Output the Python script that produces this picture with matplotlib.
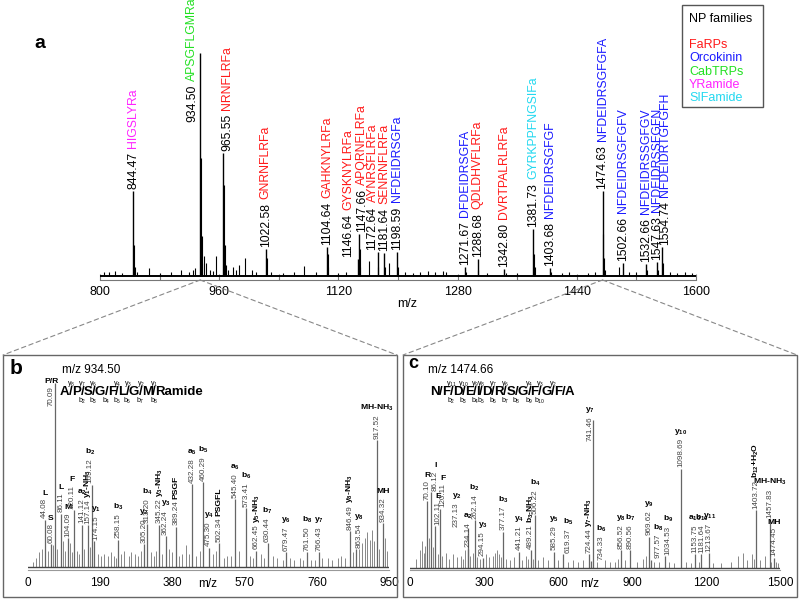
import re
import matplotlib
matplotlib.use('Agg')
import matplotlib.pyplot as plt
from matplotlib.patches import Rectangle, ConnectionPatch
from matplotlib.ticker import MultipleLocator

plt.rcParams['font.family'] = ['Liberation Sans', 'DejaVu Sans']
plt.rcParams['mathtext.fontset'] = 'custom'
plt.rcParams['mathtext.rm'] = 'Liberation Sans'
plt.rcParams['mathtext.it'] = 'Liberation Sans:italic'
plt.rcParams['mathtext.bf'] = 'Liberation Sans:bold'

# ------------------------------------------------------------------ data
# Panel a : full MS spectrum
a_xticks = [800, 960, 1120, 1280, 1440, 1600]
a_lab_mz = [844.47, 934.50, 965.55, 1022.58, 1104.64, 1146.64, 1147.66, 1172.64,
            1181.64, 1198.59, 1290.0, 1307.0, 1342.80, 1381.73, 1403.68, 1474.63,
            1502.66, 1532.66, 1547.63, 1554.74]
a_lab_int = [38, 100, 55, 12, 13, 7.5, 19, 11, 10.5, 11, 4, 7.6, 3.2, 21, 3.7, 38,
             5.9, 5.3, 6.3, 13]
a_lab_num = ['844.47', '934.50', '965.55', '1022.58', '1104.64', '1146.64', '1147.66',
             '1172.64', '1181.64', '1198.59', '1271.67', '1288.68', '1342.80', '1381.73',
             '1403.68', '1474.63', '1502.66', '1532.66', '1547.63', '1554.74']
a_lab_name = ['HIGSLYRa', 'APSGFLGMRa', 'NRNFLRFa', 'GNRNFLRFa', 'GAHKNYLRFa',
              'GYSKNYLRFa', 'APQRNFLRFa', 'AYNRSFLRFa', 'SENRNFLRFa', 'NFDEIDRSGFa',
              'DFDEIDRSGFA', 'QDLDHVFLRFa', 'DVRTPALRLRFa', 'GYRKPPFNGSIFa',
              'NFDEIDRSGFGF', 'NFDEIDRSGFGFA', 'NFDEIDRSGFGFV', 'NFDEIDRSSGFGV',
              'NFDEIDRSSFGFN', 'NFDEIDRTGFGFH']
a_lab_family = ['YRamide', 'CabTRPs', 'FaRPs', 'FaRPs', 'FaRPs', 'FaRPs', 'FaRPs',
                'FaRPs', 'FaRPs', 'Orcokinin', 'Orcokinin', 'FaRPs', 'FaRPs',
                'SIFamide', 'Orcokinin', 'Orcokinin', 'Orcokinin', 'Orcokinin',
                'Orcokinin', 'Orcokinin']
a_minor_mz = [806, 812, 820, 830, 845.5, 846.5, 850, 866, 880, 895, 909, 920, 925, 928,
              935.5, 936.5, 937.5, 939, 942, 948, 952, 956, 966.55, 967.5, 968.5, 972,
              978, 983, 987, 995, 1004, 1010, 1023.6, 1030, 1045, 1060, 1074, 1090,
              1105.6, 1106.6, 1120, 1130, 1148.66, 1149.6, 1161, 1173.6, 1182.6, 1187.6,
              1199.6, 1210, 1220, 1230, 1240, 1250, 1260, 1265, 1291, 1308, 1320, 1345,
              1360, 1382.7, 1383.7, 1404.7, 1420, 1430, 1455, 1465, 1475.6, 1476.6,
              1477.6, 1497, 1510, 1520, 1533.6, 1548.6, 1555.7, 1565, 1575, 1585, 1595]
a_minor_int = [2, 1.8, 2.2, 1.5, 14, 4, 2, 3.7, 1.5, 1.8, 3, 2, 3, 3.5,
               53, 18, 6, 9, 6, 3, 2.5, 9, 41, 14, 5, 3,
               4, 3, 5, 8, 3, 2, 8, 2, 1.5, 2, 4.4, 1.8,
               10, 4, 1.5, 2, 12, 4, 7, 4, 4, 6,
               4, 2, 1.5, 2, 2.2, 1.8, 2.5, 2, 2, 3, 1.5, 1.5,
               1.5, 10, 4, 2, 1.5, 1.8, 1.5, 2, 19, 8,
               3, 4, 2, 2, 3, 3, 6, 2, 1.5, 1.8, 1.5]
family_names = ['FaRPs', 'Orcokinin', 'CabTRPs', 'YRamide', 'SIFamide']
family_colors = ['#ff1a1a', '#1a1aff', '#22e022', '#ff22ff', '#22d8f0']

# Panel b : MS/MS of m/z 934.50
b_xticks = [0, 190, 380, 570, 760, 950]
b_mz = [44.08, 60.08, 70.09, 86.11, 104.09, 120.11, 141.12, 157.14, 169.12, 174.15,
        237.0, 305.20, 313.20, 345.22, 362.24, 389.24, 432.28, 460.29, 475.30, 502.34,
        545.40, 573.41, 601.0, 630.44, 679.47, 734.0, 766.43, 846.49, 863.54, 917.52,
        934.32]
b_int = [25.7, 12.4, 100, 29, 15.6, 31, 23, 22.8, 44.7, 14, 15, 12.4, 23.4, 23, 17, 22,
         45, 46, 10.6, 13, 37, 32, 9, 13, 8, 8, 8, 19.7, 9.7, 69, 24]
b_num = ['44.08', '60.08', '70.09', '86.11', '104.09', '120.11', '141.12', '157.14',
         '169.12', '174.15', '258.15', '305.20', '313.20', '345.22', '362.24', '389.24',
         '432.28', '460.29', '475.30', '502.34', '545.40', '573.41', '662.45', '630.44',
         '679.47', '761.50', '766.43', '846.49', '863.54', '917.52', '934.32']
b_ion = ['L', 'S', 'P/R', 'L', 'M', 'F', 'a_2', 'y_1-NH_3', 'b_2', 'y_1', 'b_3', 'y_2',
         'b_4', 'y_3-NH_3', 'y_3', 'PSGF', 'a_5', 'b_5', 'y_4', 'PSGFL', 'a_6', 'b_6',
         'y_5-NH_3', 'b_7', 'y_6', 'b_8', 'y_7', 'y_8-NH_3', 'y_8', 'MH-NH_3', 'MH']
b_minor_mz = [12, 20, 28, 36, 52, 65, 77, 92, 98, 110, 115, 128, 133, 148, 162, 183, 192,
              200, 210, 218, 226, 232, 246, 252, 266, 272, 282, 290, 298, 323, 331, 338,
              352, 370, 378, 398, 406, 415, 424, 442, 452, 487, 495, 515, 525, 535, 555,
              583, 592, 612, 620, 645, 655, 670, 690, 700, 715, 725, 745, 755, 775, 790,
              800, 815, 825, 835, 855, 872, 880, 887, 893, 899, 905, 911, 925, 940, 945]
b_minor_int = [3, 5, 8, 10, 9, 12, 10, 14, 9, 13, 8, 9, 7, 10, 11, 7, 6,
               7, 6, 8, 6, 5, 7, 9, 6, 8, 7, 6, 9, 8, 6, 9,
               7, 10, 8, 6, 7, 12, 7, 6, 9, 7, 9, 5, 6, 6, 9,
               6, 5, 7, 5, 6, 5, 4, 5, 4, 5, 4, 4, 4, 5, 5,
               4, 5, 6, 5, 8, 10, 13, 16, 19, 15, 20, 14, 10, 16, 9]
b_precursor = 'm/z 934.50'
b_residues = ['A', 'P', 'S', 'G', 'F', 'L', 'G', 'M']
b_tail = 'Ramide'
b_seq_top = ['y_8', 'y_7', 'y_6', '', 'y_4', 'y_3', 'y_2', 'y_1']
b_seq_bottom = ['', 'b_2', 'b_3', 'b_4', 'b_5', 'b_6', 'b_7', 'b_8']

# Panel c : MS/MS of m/z 1474.66
c_xticks = [0, 300, 600, 900, 1200, 1500]
c_mz = [70.10, 86.12, 102.11, 120.11, 237.13, 234.14, 262.14, 294.15, 377.17, 441.21,
        489.21, 506.22, 585.29, 619.37, 724.44, 741.46, 734.33, 856.52, 890.56, 969.62,
        977.57, 1034.53, 1098.69, 1153.75, 1181.64, 1213.67, 1403.72, 1457.83, 1474.45]
c_int = [45, 51, 28, 40, 26.7, 13, 32, 6.7, 24.4, 11, 12, 35.5, 11, 9, 9, 100, 4.4, 12,
         12, 21, 5.5, 8, 67, 9, 9, 10, 39, 33, 6.7]
c_num = ['70.10', '86.12', '102.11', '120.11', '237.13', '234.14', '262.14', '294.15',
         '377.17', '441.21', '489.21', '506.22', '585.29', '619.37', '724.44', '741.46',
         '734.33', '856.52', '890.56', '969.62', '977.57', '1034.53', '1098.69',
         '1153.75', '1181.64', '1213.67', '1403.72', '1457.83', '1474.45']
c_ion = ['R', 'I', 'E', 'F', 'y_2', 'a_2', 'b_2', 'y_3', 'b_3', 'y_4', 'b_3-NH_3', 'b_4',
         'y_5', 'b_5', 'y_7-NH_3', 'y_7', 'b_6', 'y_8', 'b_7', 'y_9', 'b_8', 'b_9', 'y_10',
         'a_10', 'b_10', 'y_11', 'b_12+H_2O', 'MH-NH_3', 'MH']
c_minor_mz = [25, 40, 48, 55, 62, 78, 95, 112, 130, 145, 160, 175, 190, 205, 215, 225,
              245, 255, 270, 285, 310, 322, 335, 345, 352, 360, 368, 390, 405, 420, 455,
              470, 478, 500, 520, 540, 560, 600, 640, 660, 680, 700, 760, 790, 810, 830,
              845, 870, 920, 945, 955, 990, 1010, 1050, 1070, 1120, 1140, 1170, 1230,
              1260, 1300, 1330, 1350, 1365, 1385, 1395, 1420, 1440, 1465, 1485, 1492]
c_minor_int = [6, 12, 18, 10, 15, 20, 14, 9, 8, 10, 6, 9, 7, 8, 6, 12,
               8, 10, 7, 6, 9, 7, 8, 10, 12, 9, 7, 6, 5, 7, 5,
               8, 6, 6, 5, 7, 5, 5, 4, 5, 4, 5, 4, 5, 4, 4,
               6, 5, 4, 6, 8, 4, 4, 4, 3, 4, 3, 4, 3,
               3, 4, 8, 10, 5, 9, 6, 5, 8, 4, 4, 3]
c_precursor = 'm/z 1474.66'
c_residues = ['N', 'F', 'D', 'E', 'I', 'D', 'R', 'S', 'G', 'F', 'G', 'F', 'A']
c_tail = ''
c_seq_top = ['', 'y_11', 'y_10', 'y_9', 'y_8', 'y_7', 'y_6', '', 'y_4', 'y_3', 'y_2', '']
c_seq_bottom = ['', 'b_2', 'b_3', 'b_4', 'b_5', 'b_6', 'b_7', 'b_8', 'b_9', 'b_10', '', '']

# ------------------------------------------------------------------ layout / style
W, H = 800, 600
PT = 0.72  # points per pixel at 100 dpi

a_label_y = {'934.50': 68}
a_label_dx = {'934.50': -8, '965.55': 4, '1146.64': -10, '1147.66': 3, '1172.64': -5,
              '1554.74': 3}
b_label_y = {'70.09': 86.7}
b_label_dx = {'70.09': -3, '169.12': -2, '174.15': 2, '120.11': -2, '863.54': 3}
c_label_y = {'741.46': 85}
c_label_dx = {'86.12': 4, '102.11': 3, '120.11': 3, '237.13': -12, '619.37': 5,
              '734.33': 10, '741.46': -3, '977.57': 7, '1034.53': 3}

fam_color = dict(zip(family_names, family_colors))


def rect(l, t, r, b):
    return [l / W, 1 - b / H, (r - l) / W, (b - t) / H]


def ion_tex(s, bold=True):
    parts = re.split(r'_(\d+)', s)
    out = ''
    for i, p in enumerate(parts):
        if i % 2 == 0:
            out += p
        else:
            out += (r'$_{\mathbf{%s}}$' % p) if bold else (r'$_{%s}$' % p)
    return out


fig = plt.figure(figsize=(8, 6), dpi=100)

# ---------------- panel a
ax_a = fig.add_axes(rect(100, 20, 696, 280))
ax_a.vlines(a_minor_mz, 0, a_minor_int, color='k', lw=0.8)
ax_a.vlines(a_lab_mz, 0, a_lab_int, color='k', lw=1.0)
ax_a.axhline(0, color='k', lw=1.4)
ax_a.set_xlim(800, 1600)
ax_a.set_ylim(-1.7, 114.8)
ax_a.set_xticks(a_xticks)
ax_a.xaxis.set_minor_locator(MultipleLocator(80))
ax_a.tick_params(axis='x', which='both', direction='in', length=4, width=0.8,
                 color='#777', labelsize=9, pad=4)
ax_a.set_yticks([])
for s in ['top', 'left', 'right']:
    ax_a.spines[s].set_visible(False)
ax_a.spines['bottom'].set_color('#777')
ax_a.patch.set_alpha(0)

for mz, h, num, name, fam in zip(a_lab_mz, a_lab_int, a_lab_num, a_lab_name, a_lab_family):
    y = a_label_y.get(num, h)
    dx = a_label_dx.get(num, 0) * PT
    t = ax_a.annotate(num, xy=(mz, y), xytext=(dx, 1.5), textcoords='offset points',
                      rotation=90, ha='center', va='bottom', fontsize=8.8,
                      annotation_clip=False)
    ax_a.annotate(name, xy=(0.5, 1), xycoords=t, xytext=(0, 3), textcoords='offset points',
                  rotation=90, ha='center', va='bottom', fontsize=8.8,
                  color=fam_color[fam], annotation_clip=False)


# ---------------- MS/MS panels
def msms(ax, mz, ints, nums, ions, lab_y, lab_dx, minor_mz, minor_int, xticks, xmax):
    ax.vlines(minor_mz, 0, minor_int, color='#888', lw=0.7)
    ax.vlines(mz, 0, ints, color='#666', lw=0.9)
    ax.axhline(0, color='#444', lw=1.0)
    ax.set_xlim(0, xmax)
    ax.set_ylim(-1.5, 100)
    ax.set_xticks(xticks)
    ax.tick_params(axis='x', length=0, labelsize=8.5, pad=5)
    ax.set_yticks([])
    for s in ['top', 'left', 'right']:
        ax.spines[s].set_visible(False)
    ax.spines['bottom'].set_color('#999')
    ax.patch.set_alpha(0)
    for m, h, num, ion in zip(mz, ints, nums, ions):
        y = lab_y.get(num, h)
        dx = lab_dx.get(num, 0) * PT
        t = ax.annotate(num, xy=(m, y), xytext=(dx, 1), textcoords='offset points',
                        rotation=90, ha='center', va='bottom', fontsize=5.8,
                        color='#444', annotation_clip=False)
        rot = 90 if (len(re.sub('_', '', ion)) > 3 and not ion.startswith('MH')) else 0
        ax.annotate(ion_tex(ion), xy=(0.5, 1), xycoords=t, xytext=(0, 1),
                    textcoords='offset points', rotation=rot, ha='center', va='bottom',
                    fontsize=6.1, fontweight='bold', annotation_clip=False)


ax_b = fig.add_axes(rect(28, 383, 389, 570))
msms(ax_b, b_mz, b_int, b_num, b_ion, b_label_y, b_label_dx, b_minor_mz, b_minor_int,
     b_xticks, 950)
ax_c = fig.add_axes(rect(410, 420, 780, 570))
msms(ax_c, c_mz, c_int, c_num, c_ion, c_label_y, c_label_dx, c_minor_mz, c_minor_int,
     c_xticks, 1500)

# ---------------- overlay in pixel coordinates
ov = fig.add_axes([0, 0, 1, 1])
ov.set_xlim(0, W)
ov.set_ylim(H, 0)
ov.axis('off')
ov.patch.set_alpha(0)

ov.text(40, 43, 'a', fontsize=14, fontweight='bold', ha='center', va='center')
ov.text(10, 368, 'b', fontsize=15, fontweight='bold', ha='left', va='center')
ov.text(408, 364, 'c', fontsize=13, fontweight='bold', ha='left', va='center')
ov.text(407, 304, 'm/z', fontsize=9, ha='center', va='center')
ov.text(208, 584, 'm/z', fontsize=8.5, ha='center', va='center')
ov.text(590, 584, 'm/z', fontsize=8.5, ha='center', va='center')

# legend
ov.add_patch(Rectangle((682, 5), 81, 102, fill=False, edgecolor='#555', lw=1))
ov.text(689, 19, 'NP families', fontsize=9, ha='left', va='center')
for i, (fname, fcol) in enumerate(zip(family_names, family_colors)):
    ov.text(689, 45 + i * 13.3, fname, fontsize=9, color=fcol, ha='left', va='center')

# boxes
ov.add_patch(Rectangle((3, 355), 394, 242, fill=False, edgecolor='#666', lw=1))
ov.add_patch(Rectangle((403, 355), 394, 242, fill=False, edgecolor='#666', lw=1))

# zoom connectors
for xa, ends in [(934.5, [(3, 355), (397, 355)]), (1474.63, [(403, 355), (797, 355)])]:
    for e in ends:
        con = ConnectionPatch(xyA=(xa, -1.7), coordsA=ax_a.transData, xyB=e,
                              coordsB=ov.transData, linestyle=(0, (4, 3)),
                              color='#888', lw=0.8)
        ov.add_artist(con)

# precursor titles
ov.text(62, 370, b_precursor, fontsize=8.5, ha='left', va='center')
ov.text(428, 370, c_precursor, fontsize=8.5, ha='left', va='center')


def sequence(x, y, residues, tail, top, bottom, fs=9.5, kern=-0.4):
    prev = ov.text(x, y, residues[0], fontsize=fs, fontweight='bold', ha='left',
                   va='center')
    tokens = []
    for r in residues[1:]:
        tokens += ['/', r]
    if tail:
        tokens += ['/', tail]
    slashes = []
    for tok in tokens:
        prev = ov.annotate(tok, xy=(1, 0.5), xycoords=prev, xytext=(kern, 0),
                           textcoords='offset points', ha='left', va='center',
                           fontsize=fs, fontweight='bold')
        if tok == '/':
            slashes.append(prev)
    for s, lt, lb in zip(slashes, top, bottom):
        if lt:
            ov.annotate(ion_tex(lt, bold=False), xy=(0.5, 1), xycoords=s, xytext=(0, -2),
                        textcoords='offset points', ha='center', va='bottom', fontsize=5)
        if lb:
            ov.annotate(ion_tex(lb, bold=False), xy=(0.5, 0), xycoords=s, xytext=(0, 1.5),
                        textcoords='offset points', ha='center', va='top', fontsize=5)


sequence(60, 392, b_residues, b_tail, b_seq_top, b_seq_bottom)
sequence(430, 392, c_residues, c_tail, c_seq_top, c_seq_bottom)

fig.savefig('out.png', dpi=100)
